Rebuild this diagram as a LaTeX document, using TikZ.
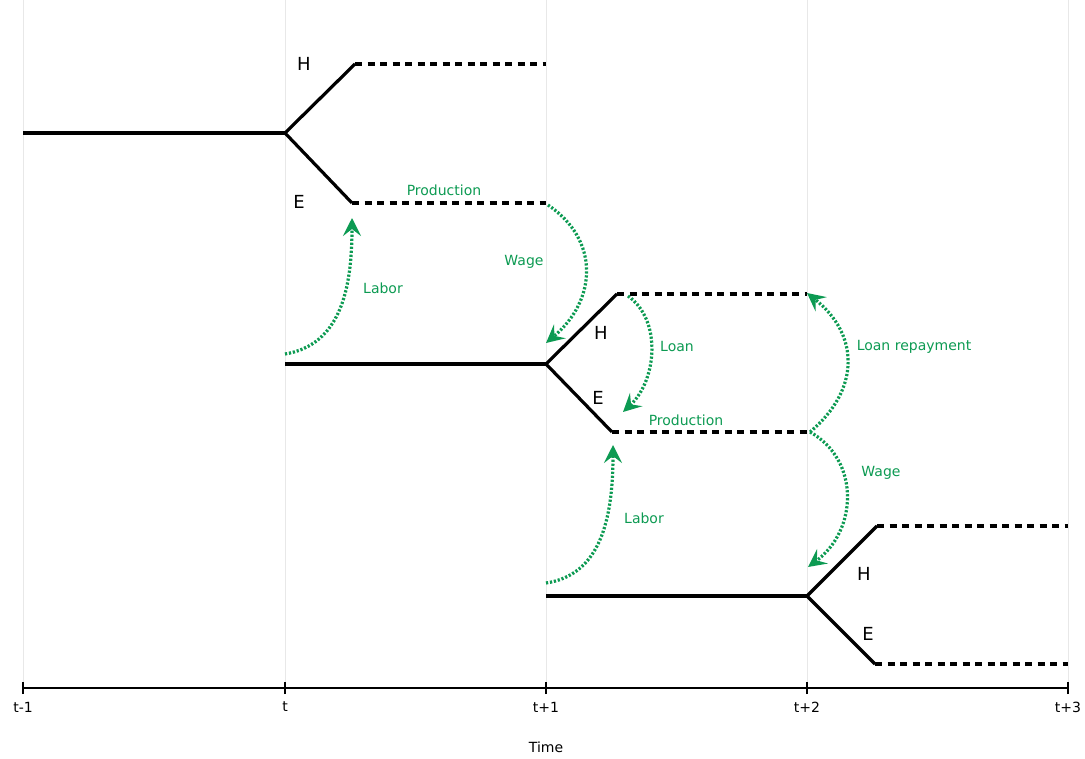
\documentclass[tikz,border=0pt]{standalone}
\usepackage{fontspec}
\setmainfont{DejaVu Sans}
\usetikzlibrary{arrows.meta}
\definecolor{flowgreen}{HTML}{0C9A52}
\definecolor{gridgray}{HTML}{E8E8E8}
\begin{document}
\begin{tikzpicture}[x=1pt,y=-1pt,
  grid/.style={draw=gridgray,line width=1pt},
  solidline/.style={draw=black,line width=3.2pt,line join=miter},
  dashline/.style={draw=black,line width=3.2pt,dash pattern=on 7pt off 5.5pt},
  flow/.style={draw=flowgreen,line width=3.2pt,dash pattern=on 2.2pt off 1.8pt,
    -{Stealth[length=18pt,width=18pt,inset=7pt,fill=flowgreen]}},
  flowlbl/.style={text=flowgreen,font=\fontsize{14}{16}\selectfont},
  hlbl/.style={font=\fontsize{18}{20}\selectfont},
  ticklbl/.style={font=\fontsize{14}{16}\selectfont}]
\useasboundingbox (0,0) rectangle (1085,759);
% grid lines
\foreach \n/\x in {a/23,b/285,c/546,d/807,e/1068}{
  \coordinate (top\n) at (\x,0);
  \coordinate (ax\n) at (\x,688);
  \draw[grid] (top\n) -- (ax\n);
}
% axis
\draw[black,line width=2.8pt] (axa) -- (axe);
\foreach \n in {a,b,c,d,e}{
  \draw[black,line width=2.6pt] ([yshift=-6pt]ax\n) -- ([yshift=6pt]ax\n);
}
\node[ticklbl] (la) at (23,707) {t-1};
\node[ticklbl] (lb) at (285,707) {t};
\node[ticklbl] (lc) at (546,707) {t+1};
\node[ticklbl] (ld) at (807,707) {t+2};
\node[ticklbl] (le) at (1068,707) {t+3};
\node[ticklbl] (time) at (546,747) {Time};

% generation 1
\coordinate (g1s) at (23,133);
\coordinate (g1b) at (285,133);
\coordinate (g1h) at (355,64);
\coordinate (g1he) at (546,64);
\coordinate (g1e) at (352,203);
\coordinate (g1ee) at (546,203);
\draw[solidline] (g1s) -- (g1b);
\draw[solidline] (g1h) -- (g1b) -- (g1e);
\draw[dashline] (g1h) -- (g1he);
\draw[dashline] (g1e) -- (g1ee);
\node[hlbl] (H1) at (304,64) {H};
\node[hlbl] (E1) at (299,202) {E};

% generation 2
\coordinate (g2s) at (285,364);
\coordinate (g2b) at (546,364);
\coordinate (g2h) at (617,294);
\coordinate (g2he) at (807,294);
\coordinate (g2e) at (612,432);
\coordinate (g2ee) at (807,432);
\draw[solidline] (g2s) -- (g2b);
\draw[solidline] (g2h) -- (g2b) -- (g2e);
\draw[dashline] (g2h) -- (g2he);
\draw[dashline] (g2e) -- (g2ee);
\node[hlbl] (H2) at (601,333) {H};
\node[hlbl] (E2) at (598,398) {E};

% generation 3
\coordinate (g3s) at (546,596);
\coordinate (g3b) at (807,596);
\coordinate (g3h) at (877,526);
\coordinate (g3he) at (1068,526);
\coordinate (g3e) at (875,664);
\coordinate (g3ee) at (1068,664);
\draw[solidline] (g3s) -- (g3b);
\draw[solidline] (g3h) -- (g3b) -- (g3e);
\draw[dashline] (g3h) -- (g3he);
\draw[dashline] (g3e) -- (g3ee);
\node[hlbl] (H3) at (864,574) {H};
\node[hlbl] (E3) at (868,634) {E};

% flows
\coordinate (lab1s) at (285,354);
\coordinate (lab1e) at (352,218);
\draw[flow] (lab1s) .. controls (340,345) and (352,290) .. (lab1e);
\node[flowlbl] (labor1) at (383,288) {Labor};
\node[flowlbl] (prod1) at (444,190) {Production};

\coordinate (w1s) at (548,205);
\coordinate (w1e) at (546,343);
\draw[flow] (w1s) .. controls (600,240) and (597,300) .. (w1e);
\node[flowlbl] (wage1) at (524,262) {Wage};

\coordinate (loans) at (628,296);
\coordinate (loane) at (623,412);
\draw[flow] (loans) .. controls (662,320) and (657,380) .. (loane);
\node[flowlbl] (loan) at (677,346) {Loan};
\node[flowlbl] (prod2) at (686,420) {Production};

\coordinate (lrs) at (810,432);
\coordinate (lre) at (807,293);
\draw[flow] (lrs) .. controls (860,390) and (860,335) .. (lre);
\node[flowlbl] (loanrep) at (914,347) {Loan repayment};

\coordinate (w2e) at (808,567);
\draw[flow] (lrs) .. controls (860,460) and (858,530) .. (w2e);
\node[flowlbl] (wage2) at (881,473) {Wage};

\coordinate (lab2s) at (546,583);
\coordinate (lab2e) at (613,445);
\draw[flow] (lab2s) .. controls (600,575) and (613,520) .. (lab2e);
\node[flowlbl] (labor2) at (644,518) {Labor};
\end{tikzpicture}
\end{document}
